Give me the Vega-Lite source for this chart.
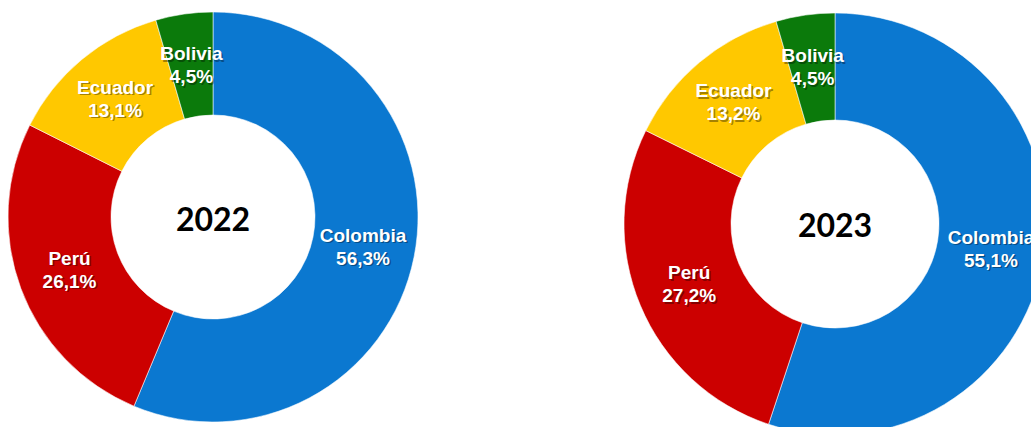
{
  "$schema": "https://vega.github.io/schema/vega-lite/v6.json",
  "padding": 0,
  "spacing": 196,
  "background": "#ffffff",
  "config": {
    "view": {"stroke": null},
    "locale": {"number": {"decimal": ",", "thousands": ".", "grouping": [3], "currency": ["", " €"]}}
  },
  "datasets": {
    "d": [
      {"year": 2022, "country": "Colombia", "n": 1, "value": 0.563},
      {"year": 2022, "country": "Perú", "n": 2, "value": 0.261},
      {"year": 2022, "country": "Ecuador", "n": 3, "value": 0.131},
      {"year": 2022, "country": "Bolivia", "n": 4, "value": 0.045},
      {"year": 2023, "country": "Colombia", "n": 1, "value": 0.551},
      {"year": 2023, "country": "Perú", "n": 2, "value": 0.272},
      {"year": 2023, "country": "Ecuador", "n": 3, "value": 0.132},
      {"year": 2023, "country": "Bolivia", "n": 4, "value": 0.045}
    ]
  },
  "hconcat": [
    {
      "width": 426,
      "height": 434,
      "data": {"name": "d"},
      "transform": [{"filter": "datum.year == 2022"}],
      "layer": [
        {
          "mark": {"type": "arc", "outerRadius": 205, "innerRadius": 102, "stroke": "#ffffff", "strokeOpacity": 0.55, "strokeWidth": 1},
          "encoding": {
            "theta": {"field": "value", "type": "quantitative", "stack": true},
            "order": {"field": "n", "type": "quantitative"},
            "color": {"field": "country", "type": "nominal", "legend": null,
              "scale": {"domain": ["Colombia", "Perú", "Ecuador", "Bolivia"], "range": ["#0B78D0", "#CC0000", "#FFC800", "#0B7A0B"]}}
          }
        },
        {
          "mark": {"type": "text", "radius": 153, "dy": -10, "dx": 1.5, "font": "Liberation Sans", "fontWeight": "bold", "fontSize": 19, "fill": "#000000", "opacity": 0.35},
          "encoding": {
            "theta": {"field": "value", "type": "quantitative", "stack": true},
            "order": {"field": "n", "type": "quantitative"},
            "text": {"field": "country", "type": "nominal"}
          }
        },
        {
          "mark": {"type": "text", "radius": 153, "dy": 13, "dx": 1.5, "font": "Liberation Sans", "fontWeight": "bold", "fontSize": 19, "fill": "#000000", "opacity": 0.35},
          "encoding": {
            "theta": {"field": "value", "type": "quantitative", "stack": true},
            "order": {"field": "n", "type": "quantitative"},
            "text": {"field": "value", "type": "quantitative", "format": ".1%"}
          }
        },
        {
          "mark": {"type": "text", "radius": 153, "dy": -11.5, "font": "Liberation Sans", "fontWeight": "bold", "fontSize": 19, "fill": "#ffffff"},
          "encoding": {
            "theta": {"field": "value", "type": "quantitative", "stack": true},
            "order": {"field": "n", "type": "quantitative"},
            "text": {"field": "country", "type": "nominal"}
          }
        },
        {
          "mark": {"type": "text", "radius": 153, "dy": 11.5, "font": "Liberation Sans", "fontWeight": "bold", "fontSize": 19, "fill": "#ffffff"},
          "encoding": {
            "theta": {"field": "value", "type": "quantitative", "stack": true},
            "order": {"field": "n", "type": "quantitative"},
            "text": {"field": "value", "type": "quantitative", "format": ".1%"}
          }
        },
        {
          "transform": [{"filter": "datum.n == 1"}],
          "mark": {"type": "text", "dy": 4, "font": "Lato", "fontWeight": "bold", "fontSize": 32, "fill": "#000000"},
          "encoding": {
            "text": {"field": "year", "type": "nominal"}
          }
        }
      ]
    },
    {
      "width": 422,
      "height": 448,
      "data": {"name": "d"},
      "transform": [{"filter": "datum.year == 2023"}],
      "layer": [
        {
          "mark": {"type": "arc", "outerRadius": 211, "innerRadius": 104, "stroke": "#ffffff", "strokeOpacity": 0.55, "strokeWidth": 1},
          "encoding": {
            "theta": {"field": "value", "type": "quantitative", "stack": true},
            "order": {"field": "n", "type": "quantitative"},
            "color": {"field": "country", "type": "nominal", "legend": null,
              "scale": {"domain": ["Colombia", "Perú", "Ecuador", "Bolivia"], "range": ["#0B78D0", "#CC0000", "#FFC800", "#0B7A0B"]}}
          }
        },
        {
          "mark": {"type": "text", "radius": 158, "dy": -10, "dx": 1.5, "font": "Liberation Sans", "fontWeight": "bold", "fontSize": 19, "fill": "#000000", "opacity": 0.35},
          "encoding": {
            "theta": {"field": "value", "type": "quantitative", "stack": true},
            "order": {"field": "n", "type": "quantitative"},
            "text": {"field": "country", "type": "nominal"}
          }
        },
        {
          "mark": {"type": "text", "radius": 158, "dy": 13, "dx": 1.5, "font": "Liberation Sans", "fontWeight": "bold", "fontSize": 19, "fill": "#000000", "opacity": 0.35},
          "encoding": {
            "theta": {"field": "value", "type": "quantitative", "stack": true},
            "order": {"field": "n", "type": "quantitative"},
            "text": {"field": "value", "type": "quantitative", "format": ".1%"}
          }
        },
        {
          "mark": {"type": "text", "radius": 158, "dy": -11.5, "font": "Liberation Sans", "fontWeight": "bold", "fontSize": 19, "fill": "#ffffff"},
          "encoding": {
            "theta": {"field": "value", "type": "quantitative", "stack": true},
            "order": {"field": "n", "type": "quantitative"},
            "text": {"field": "country", "type": "nominal"}
          }
        },
        {
          "mark": {"type": "text", "radius": 158, "dy": 11.5, "font": "Liberation Sans", "fontWeight": "bold", "fontSize": 19, "fill": "#ffffff"},
          "encoding": {
            "theta": {"field": "value", "type": "quantitative", "stack": true},
            "order": {"field": "n", "type": "quantitative"},
            "text": {"field": "value", "type": "quantitative", "format": ".1%"}
          }
        },
        {
          "transform": [{"filter": "datum.n == 1"}],
          "mark": {"type": "text", "dy": 3, "font": "Lato", "fontWeight": "bold", "fontSize": 32, "fill": "#000000"},
          "encoding": {
            "text": {"field": "year", "type": "nominal"}
          }
        }
      ]
    }
  ]
}
